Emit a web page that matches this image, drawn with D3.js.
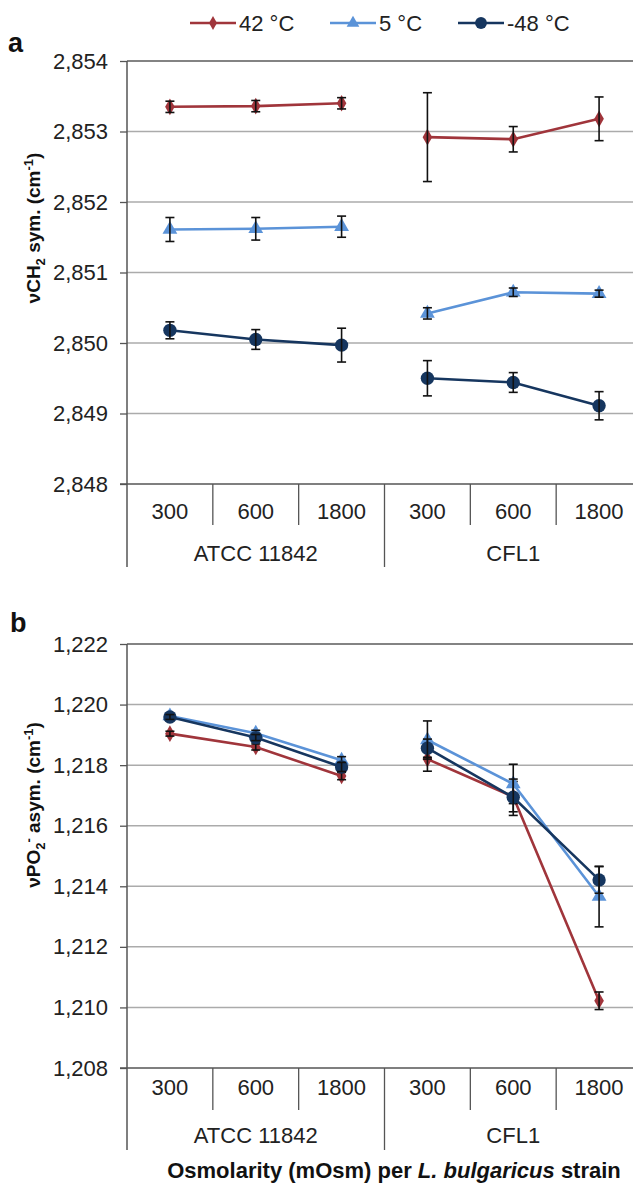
<!DOCTYPE html>
<html>
<head>
<meta charset="utf-8">
<script src="https://cdn.jsdelivr.net/npm/d3@7"></script>
<style>
  body { margin: 0; background: #fff; }
  svg { font-family: Arial, "Liberation Sans", sans-serif; }
</style>
</head>
<body>
<div id="chart"></div>
<script>
// Data
var osmolarity = ["300", "600", "1800"];
var strains = ["ATCC 11842", "CFL1"];
var seriesNames = ["42 °C", "5 °C", "-48 °C"];
var seriesColors = ["#a0353b", "#5b93d8", "#16365f"];
var seriesMarkers = ["diamond", "triangle", "circle"];

// panel a : vCH2 sym.
var a42 = [2853.35, 2853.36, 2853.40, 2852.92, 2852.89, 2853.18];
var a42Err = [0.08, 0.08, 0.08, 0.63, 0.18, 0.31];
var a5 = [2851.61, 2851.62, 2851.65, 2850.42, 2850.72, 2850.70];
var a5Err = [0.17, 0.16, 0.15, 0.08, 0.06, 0.05];
var aM48 = [2850.18, 2850.05, 2849.97, 2849.50, 2849.44, 2849.11];
var aM48Err = [0.12, 0.14, 0.24, 0.25, 0.14, 0.20];
var aTicks = [2848, 2849, 2850, 2851, 2852, 2853, 2854];

// panel b : vPO2- asym.
var b42 = [1219.04, 1218.60, 1217.64, 1218.20, 1216.96, 1210.22];
var b42Err = [0.08, 0.10, 0.12, 0.40, 0.50, 0.29];
var b5 = [1219.62, 1219.05, 1218.16, 1218.83, 1217.38, 1213.66];
var b5Err = [0.08, 0.10, 0.12, 0.63, 0.65, 1.00];
var bM48 = [1219.59, 1218.91, 1217.94, 1218.56, 1216.94, 1214.21];
var bM48Err = [0.08, 0.10, 0.15, 0.30, 0.60, 0.44];
var bTicks = [1208, 1210, 1212, 1214, 1216, 1218, 1220, 1222];

var W = 633, H = 1184;
var plotLeft = 127, plotRight = 642;
var labelSize = 22;

var svg = d3.select("#chart").append("svg")
    .attr("width", W)
    .attr("height", H);

// category keys: strain|osmolarity
var keys = [];
strains.forEach(function(s) {
    osmolarity.forEach(function(o) { keys.push(s + "|" + o); });
});

var x = d3.scaleBand().domain(keys).range([plotLeft, plotRight]);

var fmt = d3.format(",");

function markerType(m) {
    return m == "diamond" ? d3.symbolDiamond : m == "triangle" ? d3.symbolTriangle : d3.symbolCircle;
}

function drawPanel(cfg) {
    var y = d3.scaleLinear().domain(cfg.domain).range([cfg.bottom, cfg.top]);
    var g = svg.append("g");

    // gridlines
    g.selectAll("line.grid")
        .data(cfg.ticks.slice(1))
        .enter().append("line")
        .attr("x1", plotLeft).attr("x2", plotRight)
        .attr("y1", function(d) { return y(d); })
        .attr("y2", function(d) { return y(d); })
        .attr("stroke", function(d, i) { return i == cfg.ticks.length - 2 ? "#5a5a5a" : "#ababab"; })
        .attr("stroke-width", 1.5);

    // y axis
    var yAxis = g.append("g")
        .attr("transform", "translate(" + plotLeft + ",0)")
        .call(d3.axisLeft(y).tickValues(cfg.ticks).tickFormat(fmt).tickSize(7).tickPadding(12));
    yAxis.select(".domain").remove();
    yAxis.selectAll(".tick line").attr("stroke", "#555").attr("stroke-width", 1.3);
    yAxis.selectAll(".tick text").attr("font-size", labelSize).attr("fill", "#222")
        .attr("font-family", "Arial, 'Liberation Sans', sans-serif");

    // left axis line, runs down through the category boxes
    g.append("line")
        .attr("x1", plotLeft).attr("x2", plotLeft)
        .attr("y1", cfg.top).attr("y2", cfg.bottom + cfg.groupDrop)
        .attr("stroke", "#555").attr("stroke-width", 1.5);

    // x axis line
    g.append("line")
        .attr("x1", plotLeft - 7).attr("x2", plotRight)
        .attr("y1", cfg.bottom).attr("y2", cfg.bottom)
        .attr("stroke", "#555").attr("stroke-width", 1.5);

    // category dividers
    g.selectAll("line.cat")
        .data(keys.slice(1))
        .enter().append("line")
        .attr("x1", function(d) { return x(d); })
        .attr("x2", function(d) { return x(d); })
        .attr("y1", cfg.bottom)
        .attr("y2", function(d) { return d.split("|")[1] == osmolarity[0] ? cfg.bottom + cfg.groupDrop : cfg.bottom + cfg.catDrop; })
        .attr("stroke", "#555").attr("stroke-width", 1.3);

    g.selectAll("text.cat")
        .data(keys)
        .enter().append("text")
        .attr("x", function(d) { return x(d) + x.bandwidth() / 2; })
        .attr("y", cfg.bottom + cfg.catText)
        .attr("text-anchor", "middle")
        .attr("font-size", labelSize).attr("fill", "#222")
        .text(function(d) { return d.split("|")[1]; });

    g.selectAll("text.strain")
        .data(strains)
        .enter().append("text")
        .attr("x", function(d) {
            return (x(d + "|" + osmolarity[0]) + x(d + "|" + osmolarity[2]) + x.bandwidth()) / 2;
        })
        .attr("y", cfg.bottom + cfg.groupText)
        .attr("text-anchor", "middle")
        .attr("font-size", labelSize).attr("fill", "#222")
        .text(function(d) { return d; });

    // series
    cfg.series.forEach(function(s, si) {
        var pts = s.values.map(function(v, i) { return { k: keys[i], v: v, e: s.err[i] }; });
        var cx = function(d) { return x(d.k) + x.bandwidth() / 2; };
        var col = seriesColors[si];

        // lines are broken between strains
        strains.forEach(function(st) {
            var part = pts.filter(function(d) { return d.k.split("|")[0] == st; });
            g.append("path")
                .datum(part)
                .attr("fill", "none")
                .attr("stroke", col)
                .attr("stroke-width", 2.6)
                .attr("d", d3.line().x(cx).y(function(d) { return y(d.v); }));
        });

        var symSize = seriesMarkers[si] == "diamond" ? 80 : seriesMarkers[si] == "triangle" ? 95 : 140;

        g.selectAll(null)
            .data(pts)
            .enter().append("path")
            .attr("transform", function(d) { return "translate(" + cx(d) + "," + y(d.v) + ")"; })
            .attr("d", d3.symbol().type(markerType(seriesMarkers[si])).size(symSize))
            .attr("fill", col);

        // error bars
        var eb = g.selectAll(null).data(pts).enter().append("g")
            .attr("stroke", "#111").attr("stroke-width", 1.6);
        eb.append("line")
            .attr("x1", cx).attr("x2", cx)
            .attr("y1", function(d) { return y(d.v + d.e); })
            .attr("y2", function(d) { return y(d.v - d.e); });
        eb.append("line")
            .attr("x1", function(d) { return cx(d) - 4.5; })
            .attr("x2", function(d) { return cx(d) + 4.5; })
            .attr("y1", function(d) { return y(d.v + d.e); })
            .attr("y2", function(d) { return y(d.v + d.e); });
        eb.append("line")
            .attr("x1", function(d) { return cx(d) - 4.5; })
            .attr("x2", function(d) { return cx(d) + 4.5; })
            .attr("y1", function(d) { return y(d.v - d.e); })
            .attr("y2", function(d) { return y(d.v - d.e); });
    });

    // panel letter
    svg.append("text")
        .attr("x", cfg.letterX).attr("y", cfg.letterY)
        .attr("font-size", 27).attr("font-weight", "bold").attr("fill", "#111")
        .text(cfg.letter);

    // y title
    var t = svg.append("text")
        .attr("transform", "translate(" + 40 + "," + cfg.titleY + ") rotate(-90)")
        .attr("text-anchor", "middle")
        .attr("font-size", 19).attr("font-weight", "bold").attr("fill", "#111");
    cfg.title(t);
}

drawPanel({
    domain: [2848, 2854], ticks: aTicks, top: 61, bottom: 484,
    catDrop: 41, groupDrop: 83, catText: 35, groupText: 77,
    letter: "a", letterX: 8, letterY: 52, titleY: 228,
    series: [
        { values: a42, err: a42Err },
        { values: a5, err: a5Err },
        { values: aM48, err: aM48Err }
    ],
    title: function(t) {
        t.append("tspan").text("νCH");
        t.append("tspan").attr("font-size", 13).attr("dy", 5).text("2");
        t.append("tspan").attr("dy", -5).text(" sym. (cm");
        t.append("tspan").attr("font-size", 13).attr("dy", -7).text("-1");
        t.append("tspan").attr("dy", 7).text(")");
    }
});

drawPanel({
    domain: [1208, 1222], ticks: bTicks, top: 644, bottom: 1068,
    catDrop: 42, groupDrop: 82, catText: 27, groupText: 75,
    letter: "b", letterX: 10, letterY: 632, titleY: 805,
    series: [
        { values: b42, err: b42Err },
        { values: b5, err: b5Err },
        { values: bM48, err: bM48Err }
    ],
    title: function(t) {
        t.append("tspan").text("νPO");
        t.append("tspan").attr("font-size", 13).attr("dy", 5).text("2");
        t.append("tspan").attr("font-size", 13).attr("dy", -12).text("-");
        t.append("tspan").attr("dy", 7).text(" asym. (cm");
        t.append("tspan").attr("font-size", 13).attr("dy", -7).text("-1");
        t.append("tspan").attr("dy", 7).text(")");
    }
});

// x title
var xt = svg.append("text")
    .attr("x", 394).attr("y", 1178)
    .attr("text-anchor", "middle")
    .attr("font-size", 22).attr("font-weight", "bold").attr("fill", "#111");
xt.append("tspan").text("Osmolarity (mOsm) per ");
xt.append("tspan").attr("font-style", "italic").text("L. bulgaricus");
xt.append("tspan").text(" strain");

// legend
var legX = [190, 330, 458];
var legend = svg.append("g");
seriesNames.forEach(function(name, i) {
    var lg = legend.append("g").attr("transform", "translate(" + legX[i] + ",23)");
    lg.append("line").attr("x1", 0).attr("x2", 46).attr("y1", 0).attr("y2", 0)
        .attr("stroke", seriesColors[i]).attr("stroke-width", 2.6);
    var symSize = seriesMarkers[i] == "diamond" ? 55 : seriesMarkers[i] == "triangle" ? 70 : 110;
    lg.append("path").attr("transform", "translate(23,0)")
        .attr("d", d3.symbol().type(markerType(seriesMarkers[i])).size(symSize))
        .attr("fill", seriesColors[i]);
    lg.append("text").attr("x", 49).attr("y", 8)
        .attr("font-size", 22).attr("fill", "#222")
        .text(name);
});
</script>
</body>
</html>
